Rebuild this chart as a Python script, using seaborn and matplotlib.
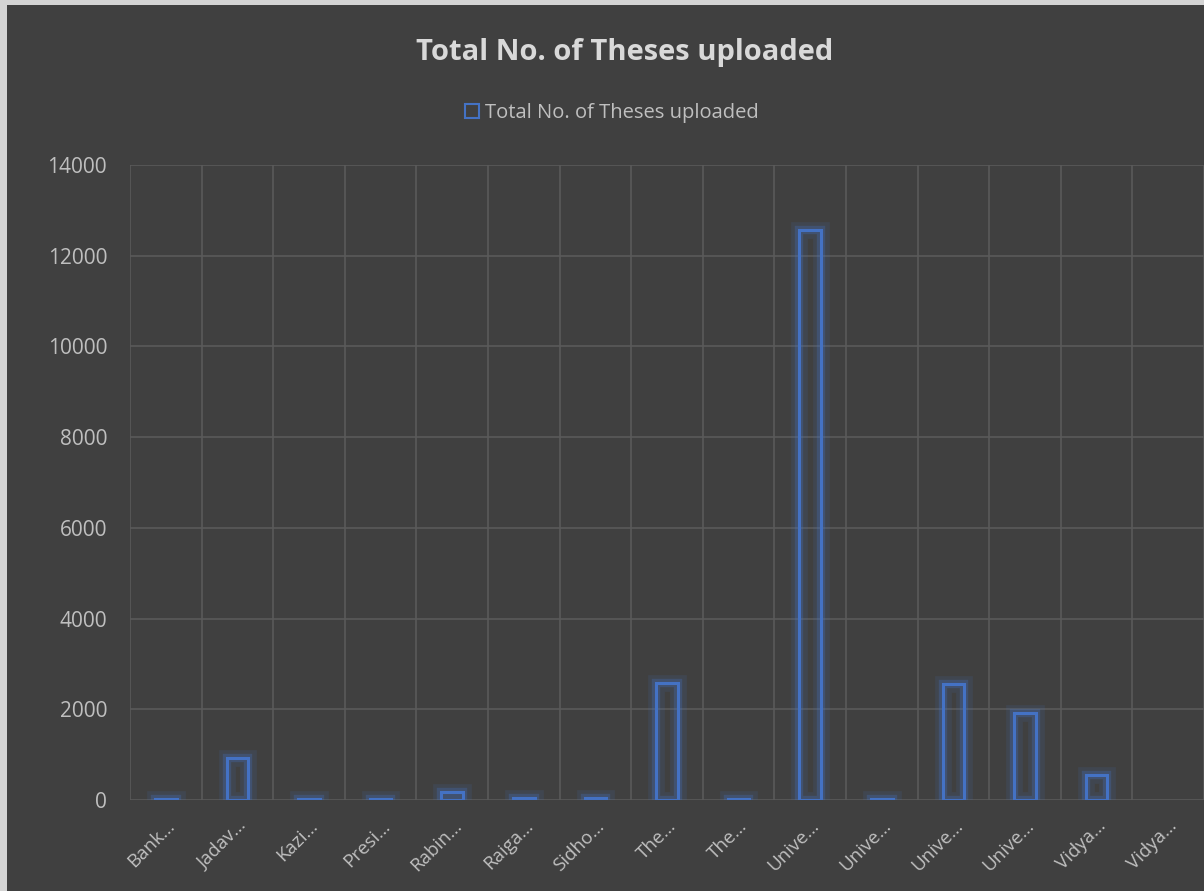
import matplotlib
matplotlib.use("Agg")
import matplotlib.pyplot as plt
import matplotlib.patheffects as pe
import matplotlib.transforms as mtransforms
from matplotlib.patches import Patch, Rectangle
import numpy as np
import pandas as pd
import seaborn as sns

# ── Datos ───────────────────────────────────────────────
universidades = [
    "Bankura University", "Jadavpur University", "Kazi Nazrul University",
    "Presidency University", "Rabindra Bharati University", "Raiganj University",
    "Sidho-Kanho-Birsha University", "The University of Burdwan",
    "The West Bengal University of Juridical Sciences", "University of Calcutta",
    "University of Gour Banga", "University of Kalyani",
    "University of North Bengal", "Vidyasagar University", "Vidyasagar University (2)",
]
etiquetas = ["Bank…", "Jadav…", "Kazi…", "Presi…", "Rabin…", "Raiga…", "Sidho…",
             "The…", "The…", "Unive…", "Unive…", "Unive…", "Unive…",
             "Vidya…", "Vidya…"]
tesis = [25, 920, 20, 35, 170, 55, 55, 2580, 30, 12560, 20, 2550, 1920, 550, 0]

serie = "Total No. of Theses uploaded"
df = pd.DataFrame({"univ": universidades, "tesis": tesis})

# ── Estilo ──────────────────────────────────────────────
FONDO = "#404040"
TEXTO = "#bfbfbf"
AZUL = "#4472c4"
REJILLA = "#5a5a5a"

sns.set_style("dark")
plt.rcParams["font.family"] = ["Open Sans", "DejaVu Sans"]

fig = plt.figure(figsize=(12.04, 8.91), dpi=100, facecolor=FONDO)
ax = fig.add_axes([0.108, 0.102, 0.892, 0.713])
ax.set_facecolor(FONDO)

sns.barplot(data=df, x="univ", y="tesis", order=universidades, ax=ax,
            fill=False, width=0.3, linewidth=2.2, color=AZUL, errorbar=None)

# brillo alrededor de las barras (las de valor 0 no se ven)
for p in ax.patches:
    p.set_edgecolor(AZUL)
    if p.get_height() <= 0:
        p.set_visible(False)
        continue
    p.set_path_effects([pe.Stroke(linewidth=12, foreground=AZUL, alpha=0.12),
                        pe.Stroke(linewidth=6, foreground=AZUL, alpha=0.28),
                        pe.Normal()])

# ── Ejes y rejilla ──────────────────────────────────────
ax.set_xlim(-0.5, len(universidades) - 0.5)
ax.set_ylim(0, 14000)
ax.set_yticks(np.arange(0, 14001, 2000))
ax.set_xticks(range(len(universidades)))
ax.set_xticklabels(etiquetas, rotation=45, ha="right", rotation_mode="anchor",
                   color=TEXTO, fontsize=13.5)
desplaza = mtransforms.ScaledTranslation(18 / 100, 0, fig.dpi_scale_trans)
for lbl in ax.get_xticklabels():
    lbl.set_transform(lbl.get_transform() + desplaza)
ax.set_xticks(np.arange(-0.5, len(universidades), 1), minor=True)
ax.tick_params(axis="y", colors=TEXTO, labelsize=15, length=0, pad=16.5)
ax.tick_params(axis="x", which="both", length=0, pad=12)
ax.grid(axis="y", which="major", color=REJILLA, linewidth=1.2)
ax.grid(axis="x", which="minor", color=REJILLA, linewidth=1.2)
ax.grid(axis="x", which="major", visible=False)
for s in ax.spines.values():
    s.set_visible(False)
ax.set_xlabel("")
ax.set_ylabel("")

# ── Título y leyenda ────────────────────────────────────
fig.text(0.519, 0.941, serie, ha="center", va="center", fontsize=21,
         fontweight="bold", color="#d9d9d9")
handle = Patch(facecolor="none", edgecolor=AZUL, linewidth=1.5, label=serie)
fig.legend(handles=[handle], loc="center", bbox_to_anchor=(0.508, 0.873),
           frameon=False, fontsize=14.5, labelcolor=TEXTO,
           handlelength=0.7, handleheight=0.7, handletextpad=0.3)

# borde claro del marco (arriba e izquierda)
fig.patches.append(Rectangle((0, 1 - 5 / 891), 1, 5 / 891, transform=fig.transFigure,
                             facecolor="#d4d4d4", edgecolor="none"))
fig.patches.append(Rectangle((0, 0), 7 / 1204, 1, transform=fig.transFigure,
                             facecolor="#d4d4d4", edgecolor="none"))

fig.savefig("out.png", dpi=100, facecolor=FONDO)
